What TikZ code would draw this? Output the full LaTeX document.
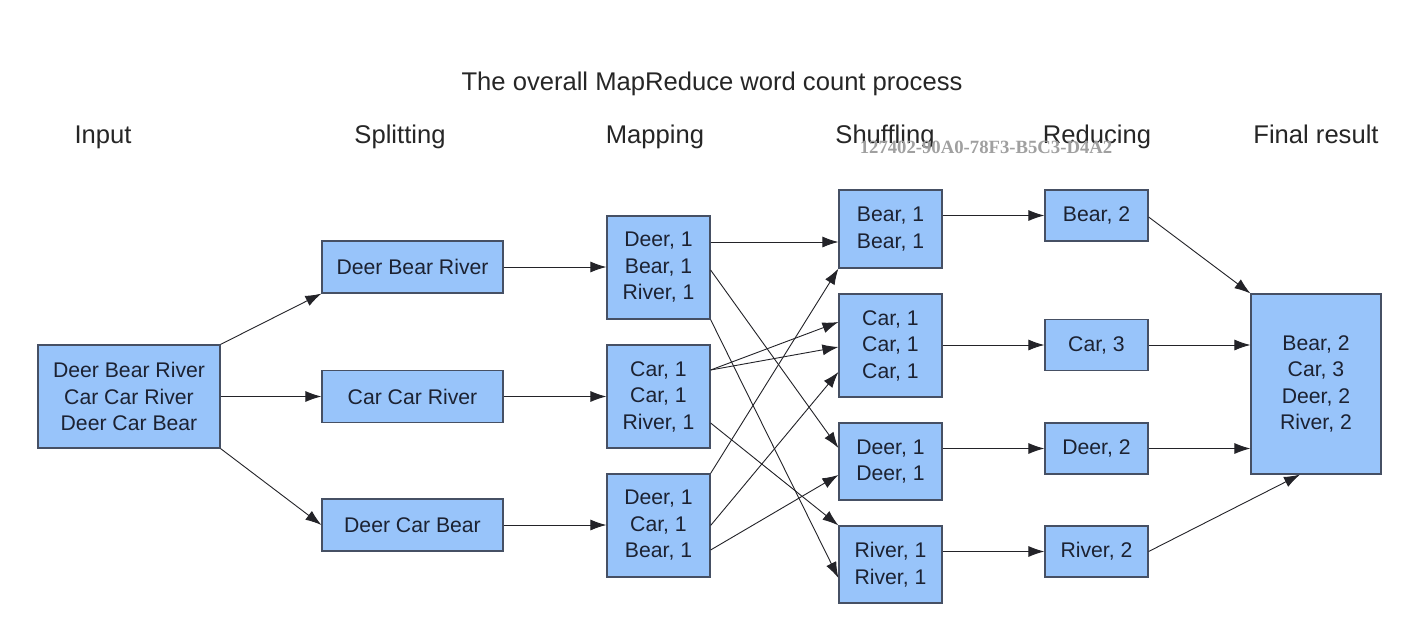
\documentclass[tikz,border=0pt]{standalone}
\usepackage{fontspec}
\setmainfont{Liberation Sans}
\newfontfamily\wmfont{Liberation Serif}
\usetikzlibrary{arrows.meta}
\definecolor{boxfill}{RGB}{152,196,250}
\definecolor{boxline}{RGB}{70,80,100}
\definecolor{txt}{RGB}{28,34,50}
\definecolor{arr}{RGB}{35,35,40}
\definecolor{wm}{RGB}{160,160,160}
\begin{document}
\begin{tikzpicture}[x=1pt,y=-1pt,
  box/.style={draw=boxline, fill=boxfill, line width=1.2pt, inner sep=0pt, align=center, text=txt, font=\fontsize{21.2}{26.5}\selectfont},
  hdr/.style={inner sep=0pt, text=black!85, font=\fontsize{25.6}{30}\selectfont, anchor=base},
  con/.style={draw=arr, line width=0.9pt, -{Latex[length=16pt,width=11pt]}}]
\useasboundingbox[fill=white] (0,0) rectangle (1402,616);

% headers
\node[hdr] (title) at (712,90) {The overall MapReduce word count process};
\node[hdr] (hin) at (103,143) {Input};
\node[hdr] (hsp) at (400,143) {Splitting};
\node[hdr] (hma) at (655,143) {Mapping};
\node[hdr] (hsh) at (885,143) {Shuffling};
\node[hdr] (hre) at (1097,143) {Reducing};
\node[hdr] (hfi) at (1316,143) {Final result};
\node[inner sep=0pt, anchor=base, text=wm, font=\wmfont\bfseries\fontsize{18.7}{22}\selectfont] (wmark) at (986,153) {127402-90A0-78F3-B5C3-D4A2};

% input
\node[box, minimum width=182pt, minimum height=103pt] (in) at (129,396.5) {Deer Bear River\\Car Car River\\Deer Car Bear};

% splitting
\node[box, minimum width=181pt, minimum height=52pt] (s1) at (412.5,267) {Deer Bear River};
\node[box, minimum width=181pt, minimum height=52pt] (s2) at (412.5,396.5) {Car Car River};
\node[box, minimum width=181pt, minimum height=52pt] (s3) at (412.5,525) {Deer Car Bear};

% mapping
\node[box, minimum width=103pt, minimum height=103pt] (m1) at (658.5,267.5) {Deer, 1\\Bear, 1\\River, 1};
\node[box, minimum width=103pt, minimum height=103pt] (m2) at (658.5,396.5) {Car, 1\\Car, 1\\River, 1};
\node[box, minimum width=103pt, minimum height=103pt] (m3) at (658.5,525.5) {Deer, 1\\Car, 1\\Bear, 1};

% shuffling
\node[box, minimum width=103pt, minimum height=78pt] (h1) at (890.5,229) {Bear, 1\\Bear, 1};
\node[box, minimum width=103pt, minimum height=103pt] (h2) at (890.5,345.5) {Car, 1\\Car, 1\\Car, 1};
\node[box, minimum width=103pt, minimum height=77pt] (h3) at (890.5,461.5) {Deer, 1\\Deer, 1};
\node[box, minimum width=103pt, minimum height=77pt] (h4) at (890.5,564.5) {River, 1\\River, 1};

% reducing
\node[box, minimum width=103pt, minimum height=51pt] (r1) at (1096.5,215.5) {Bear, 2};
\node[box, minimum width=103pt, minimum height=51pt] (r2) at (1096.5,345) {Car, 3};
\node[box, minimum width=103pt, minimum height=51pt] (r3) at (1096.5,448.5) {Deer, 2};
\node[box, minimum width=103pt, minimum height=51pt] (r4) at (1096.5,551.5) {River, 2};

% final
\node[box, minimum width=130pt, minimum height=180pt] (f) at (1316,384) {Bear, 2\\Car, 3\\Deer, 2\\River, 2};

% input -> splitting
\draw[con] (in.north east) -- (s1.south west);
\draw[con] (in.east) -- (s2.west);
\draw[con] (in.south east) -- (s3.west);

% splitting -> mapping
\draw[con] (s1.east) -- (m1.west |- s1.east);
\draw[con] (s2.east) -- (m2.west |- s2.east);
\draw[con] (s3.east) -- (m3.west |- s3.east);

% mapping -> shuffling
\draw[con] ([yshift=25.5pt]m1.east) -- ([yshift=-13pt]h1.west);
\draw[con] ([yshift=-2.5pt]m1.east) -- ([yshift=13.5pt]h3.west);
\draw[con] (m1.south east) -- ([yshift=-13.5pt]h4.west);
\draw[con] ([yshift=26.5pt]m2.east) -- ([yshift=23.5pt]h2.west);
\draw[con] ([yshift=26.5pt]m2.east) -- ([yshift=-1.5pt]h2.west);
\draw[con] ([yshift=-26.5pt]m2.east) -- (h4.north west);
\draw[con] (m3.north east) -- (h1.south west);
\draw[con] (m3.east) -- ([yshift=-26.5pt]h2.west);
\draw[con] ([yshift=-24.5pt]m3.east) -- ([yshift=-13.5pt]h3.west);

% shuffling -> reducing
\draw[con] (h1.east |- r1.west) -- (r1.west);
\draw[con] (h2.east |- r2.west) -- (r2.west);
\draw[con] (h3.east |- r3.west) -- (r3.west);
\draw[con] (h4.east |- r4.west) -- (r4.west);

% reducing -> final
\draw[con] ([yshift=-1.5pt]r1.east) -- (f.north west);
\draw[con] (r2.east) -- (f.west |- r2.east);
\draw[con] (r3.east) -- (f.west |- r3.east);
\draw[con] (r4.east) -- ([xshift=-16pt]f.south);
\end{tikzpicture}
\end{document}
